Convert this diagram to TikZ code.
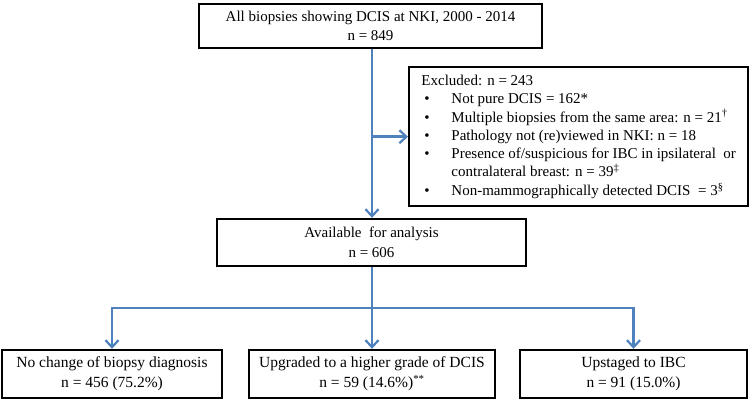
\documentclass[tikz,border=0pt]{standalone}
\usepackage{fontspec}
\setmainfont{Liberation Serif}
\usetikzlibrary{arrows.meta,calc}
\definecolor{flowblue}{RGB}{79,129,189}
\begin{document}
\begin{tikzpicture}[x=1pt,y=-1pt,
  box/.style={draw=black,line width=2.4pt,inner sep=0pt,align=center,
    font=\fontsize{15}{19.5}\selectfont},
  flow/.style={draw=flowblue,line width=2.6pt},
  flowarrow/.style={flow,-{Straight Barb[length=7pt,width=13pt,line width=2.2pt]}}]
\useasboundingbox (0,0) rectangle (750,401);
\fill[white] (0,0) rectangle (750,401);

\node[box,minimum width=343pt,minimum height=44pt] (top) at (370.5,26)
  {All biopsies showing DCIS at NKI, 2000 - 2014\\n = 849};

\node[box,minimum width=339pt,minimum height=139pt,align=left,inner xsep=9pt,
  font=\fontsize{15}{18.3}\selectfont,anchor=north west] (exc) at (408,66)
  {\begin{tabular}{@{}l@{}}%
  Excluded: n = 243\\
  \makebox[30pt][l]{\hspace{3pt}\textbullet}Not pure DCIS = 162*\\
  \makebox[30pt][l]{\hspace{3pt}\textbullet}Multiple biopsies from the same area: n = 21\textsuperscript{\textdagger}\\
  \makebox[30pt][l]{\hspace{3pt}\textbullet}Pathology not (re)viewed in NKI: n = 18\\
  \makebox[30pt][l]{\hspace{3pt}\textbullet}Presence of/suspicious for IBC in ipsilateral\ \ or\\
  \makebox[30pt][l]{}contralateral breast: n = 39\textsuperscript{\textdaggerdbl}\\
  \makebox[30pt][l]{\hspace{3pt}\textbullet}Non-mammographically detected DCIS\ \ = 3\textsuperscript{\textsection}
  \end{tabular}};

\node[box,minimum width=309pt,minimum height=47pt] (avail) at (371.5,242.5)
  {Available\ \ for analysis\\n = 606};

\node[box,minimum width=220pt,minimum height=48pt,font=\fontsize{15.5}{20}\selectfont] (nochg) at (112,374)
  {No change of biopsy diagnosis\\n = 456 (75.2\%)};
\node[box,minimum width=246pt,minimum height=48pt,font=\fontsize{15.5}{20}\selectfont] (upgr) at (372,374)
  {Upgraded to a higher grade of DCIS\\n = 59 (14.6\%)\textsuperscript{**}};
\node[box,minimum width=227pt,minimum height=48pt,font=\fontsize{15.5}{20}\selectfont] (upst) at (633.5,374)
  {Upstaged to IBC\\n = 91 (15.0\%)};

\coordinate (split) at (372,308);
\coordinate (leftc) at (nochg.north |- split);
\coordinate (rightc) at (upst.north |- split);

\draw[flowarrow] (top.south -| split) -- (avail.north -| split);
\draw[flowarrow] (split |- exc.west) -- (exc.west);
\draw[flow] (avail.south -| split) -- (split);
\draw[flow,line cap=rect] (leftc) -- (rightc);
\draw[flowarrow] (leftc) -- (nochg.north);
\draw[flowarrow] (split) -- (upgr.north);
\draw[flowarrow] (rightc) -- (upst.north);
\end{tikzpicture}
\end{document}
